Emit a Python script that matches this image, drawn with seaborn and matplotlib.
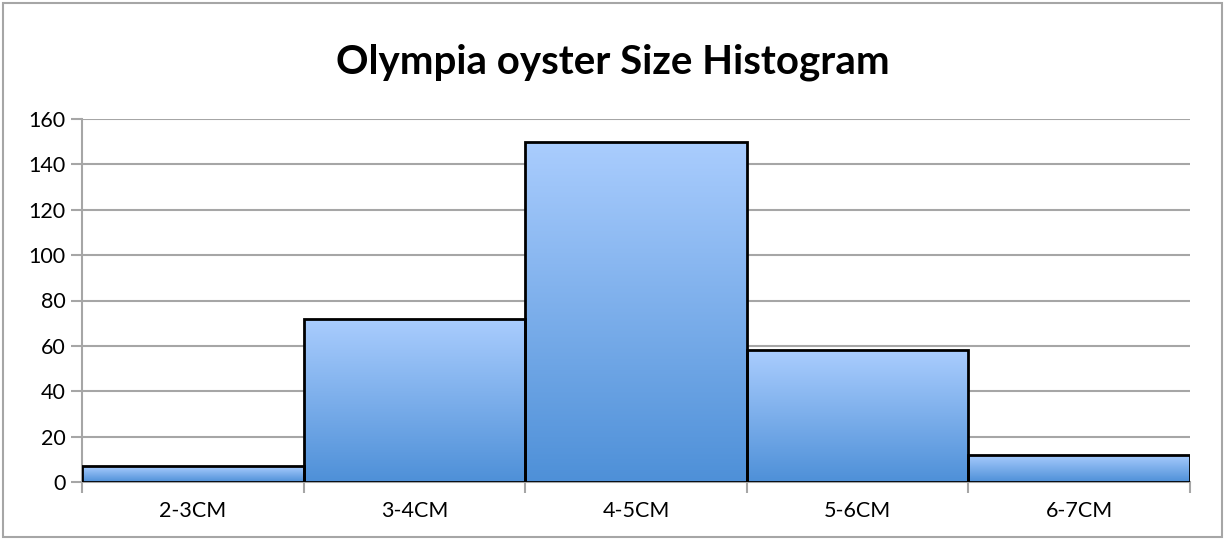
import numpy as np
import pandas as pd
import matplotlib
matplotlib.use('Agg')
import matplotlib.pyplot as plt
import seaborn as sns
from matplotlib.colors import LinearSegmentedColormap
from matplotlib.patches import Rectangle

# данные гистограммы
sizes = ['2-3CM', '3-4CM', '4-5CM', '5-6CM', '6-7CM']
counts = [7, 72, 150, 58, 12]
title = 'Olympia oyster Size Histogram'

df = pd.DataFrame({'Size': sizes, 'Count': counts})

sns.set_style('white')
plt.rcParams['font.family'] = ['Lato', 'DejaVu Sans']
plt.rcParams['text.color'] = 'black'
plt.rcParams['xtick.color'] = 'black'
plt.rcParams['ytick.color'] = 'black'

fig = plt.figure(figsize=(12.25, 5.4), dpi=100)
ax = fig.add_axes([82 / 1225, 1 - 482 / 540, (1190 - 82) / 1225, (482 - 119) / 540])

sns.barplot(x='Size', y='Count', data=df, ax=ax, width=1.0, color='#8ab8f0',
            edgecolor='black', linewidth=2, zorder=3)

# градиент внутри каждого столбца
cmap = LinearSegmentedColormap.from_list('blu', ['#4e90d8', '#aacdfe'])
grad = np.linspace(0, 1, 256).reshape(-1, 1)
for bar in ax.patches:
    x0, y0 = bar.get_x(), bar.get_y()
    w, h = bar.get_width(), bar.get_height()
    im = ax.imshow(grad, cmap=cmap, aspect='auto', origin='lower',
                   extent=[x0, x0 + w, y0, y0 + h], zorder=3)
    im.set_clip_path(bar)
    bar.set_facecolor('none')
    bar.set_zorder(4)

ax.set_xlim(-0.5, len(sizes) - 0.5)
ax.set_ylim(0, 160)
ax.set_yticks(range(0, 161, 20))
ax.set_xlabel('')
ax.set_ylabel('')
ax.grid(axis='y', color='#a6a6a6', linewidth=1.5, zorder=0)
ax.set_axisbelow(True)

for s in ['top', 'right']:
    ax.spines[s].set_visible(False)
for s in ['left', 'bottom']:
    ax.spines[s].set_color('#a6a6a6')
    ax.spines[s].set_linewidth(1.5)

# x-ticks на границах категорий
ax.set_xticks(np.arange(-0.5, len(sizes), 1.0))
ax.set_xticklabels([])
ax.set_xticks(range(len(sizes)), minor=True)
ax.set_xticklabels(sizes, minor=True)
ax.tick_params(axis='x', which='major', length=8, width=1.5, color='#a6a6a6', bottom=True)
ax.tick_params(axis='x', which='minor', length=0, labelsize=15.5, pad=14)
ax.tick_params(axis='y', length=8, width=1.5, color='#a6a6a6', left=True, labelsize=15.5, pad=4)

fig.text(0.5, 1 - 62 / 540, title, ha='center', va='center', fontsize=29, fontweight='bold')

# рамка вокруг всего рисунка
fig.patches.append(Rectangle((3 / 1225, 3 / 540), 1 - 6 / 1225, 1 - 6 / 540,
                             transform=fig.transFigure, fill=False,
                             edgecolor='#a6a6a6', linewidth=1.5))

fig.savefig('out.png', dpi=100)
